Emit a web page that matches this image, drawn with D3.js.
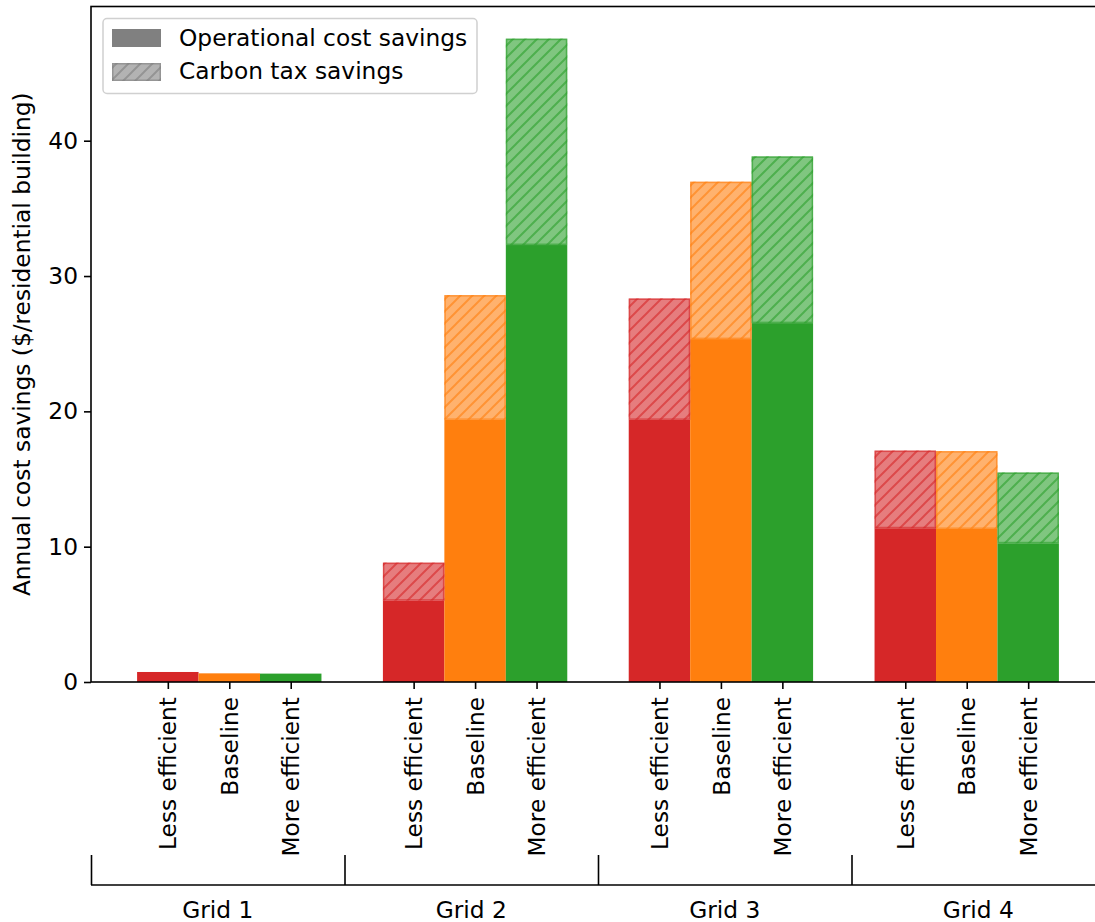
<!DOCTYPE html>
<html>
<head>
<meta charset="utf-8">
<script src="https://cdn.jsdelivr.net/npm/d3@7"></script>
<style>
  html, body { margin: 0; padding: 0; background: #ffffff; }
  svg { display: block; font-family: "DejaVu Sans", sans-serif; }
</style>
</head>
<body>
<svg id="chart" width="1095" height="922"></svg>
<script>
// Grid scenarios and building efficiency cases
const grids = ["Grid 1", "Grid 2", "Grid 3", "Grid 4"];
const cases = ["Less efficient", "Baseline", "More efficient"];
const caseColors = ["#d62728", "#ff7f0e", "#2ca02c"];

// Annual savings per residential building ($), one row per grid, one value per case
const operationalSavings = [
  [0.74, 0.64, 0.62],
  [6.01, 19.37, 32.29],
  [19.37, 25.34, 26.52],
  [11.36, 11.31, 10.25]
];
const carbonTaxSavings = [
  [0, 0, 0],
  [2.81, 9.22, 15.25],
  [8.97, 11.63, 12.32],
  [5.74, 5.75, 5.23]
];
const yTicks = [0, 10, 20, 30, 40];
const legendLabels = ["Operational cost savings", "Carbon tax savings"];
const yLabel = "Annual cost savings ($/residential building)";

const FONT = 23.3;
const svg = d3.select("#chart");
const plot = { left: 91, right: 1105, top: 6.5, bottom: 682 };
const barWidth = 0.25;

// Flatten into one record per bar
const bars = [];
grids.forEach((g, gi) => {
  cases.forEach((c, ci) => {
    bars.push({
      pos: gi + (ci - 1) * barWidth,
      op: operationalSavings[gi][ci],
      carbon: carbonTaxSavings[gi][ci],
      color: caseColors[ci],
      label: c
    });
  });
});

const xMinData = d3.min(bars, d => d.pos - barWidth / 2);
const xMaxData = d3.max(bars, d => d.pos + barWidth / 2);
const xPad = (xMaxData - xMinData) * 0.05;
const x = d3.scaleLinear()
  .domain([xMinData - xPad, xMaxData + xPad])
  .range([plot.left, plot.right]);

const yMax = d3.max(bars, d => d.op + d.carbon) * 1.05;
const y = d3.scaleLinear()
  .domain([0, yMax])
  .range([plot.bottom, plot.top]);

// Hatch patterns, one per colour
const defs = svg.append("defs");
function addHatch(id, color) {
  const p = defs.append("pattern")
    .attr("id", id)
    .attr("patternUnits", "userSpaceOnUse")
    .attr("width", 12).attr("height", 12);
  p.append("path")
    .attr("d", "M-3,3 L3,-3 M0,12 L12,0 M9,15 L15,9")
    .attr("stroke", color)
    .attr("stroke-width", 2)
    .attr("fill", "none");
}
caseColors.forEach((c, i) => addHatch("hatch" + i, c));
addHatch("hatchLegend", "#808080");

const barLayer = svg.append("g");

// Operational savings (solid)
barLayer.selectAll("rect.op")
  .data(bars)
  .join("rect")
  .attr("class", "op")
  .attr("x", d => x(d.pos - barWidth / 2))
  .attr("width", d => x(d.pos + barWidth / 2) - x(d.pos - barWidth / 2))
  .attr("y", d => y(d.op))
  .attr("height", d => y(0) - y(d.op))
  .attr("fill", d => d.color);

// Carbon tax savings (translucent, hatched), stacked on top
const carbonBars = bars.filter(d => d.carbon > 0);
const cg = barLayer.selectAll("g.carbon")
  .data(carbonBars)
  .join("g")
  .attr("class", "carbon");
cg.append("rect")
  .attr("x", d => x(d.pos - barWidth / 2))
  .attr("width", d => x(d.pos + barWidth / 2) - x(d.pos - barWidth / 2))
  .attr("y", d => y(d.op + d.carbon))
  .attr("height", d => y(d.op) - y(d.op + d.carbon))
  .attr("fill", d => d.color)
  .attr("fill-opacity", 0.6);
cg.append("rect")
  .attr("x", d => x(d.pos - barWidth / 2))
  .attr("width", d => x(d.pos + barWidth / 2) - x(d.pos - barWidth / 2))
  .attr("y", d => y(d.op + d.carbon))
  .attr("height", d => y(d.op) - y(d.op + d.carbon))
  .attr("fill", d => "url(#hatch" + caseColors.indexOf(d.color) + ")")
  .attr("opacity", 0.6);
cg.append("rect")
  .attr("x", d => x(d.pos - barWidth / 2) + 0.75)
  .attr("width", d => x(d.pos + barWidth / 2) - x(d.pos - barWidth / 2) - 1.5)
  .attr("y", d => y(d.op + d.carbon) + 0.75)
  .attr("height", d => y(d.op) - y(d.op + d.carbon) - 1.5)
  .attr("fill", "none")
  .attr("stroke", d => d.color)
  .attr("stroke-opacity", 0.6)
  .attr("stroke-width", 1.5);

// Y axis
const yAxis = svg.append("g")
  .attr("transform", `translate(${plot.left},0)`)
  .call(d3.axisLeft(y).tickValues(yTicks).tickSize(7).tickPadding(6));
yAxis.select(".domain").remove();
yAxis.selectAll(".tick line").attr("stroke", "#000").attr("stroke-width", 1.6);
yAxis.selectAll(".tick text")
  .attr("font-size", FONT).attr("fill", "#000")
  .attr("font-family", "DejaVu Sans, sans-serif");

// X axis with rotated case labels
const xAxis = svg.append("g")
  .attr("transform", `translate(0,${plot.bottom})`)
  .call(d3.axisBottom(x)
    .tickValues(bars.map(d => d.pos))
    .tickFormat((d, i) => bars[i].label)
    .tickSize(7).tickPadding(7));
xAxis.select(".domain").remove();
xAxis.selectAll(".tick line").attr("stroke", "#000").attr("stroke-width", 1.6);
xAxis.selectAll(".tick text")
  .attr("font-size", FONT).attr("fill", "#000")
  .attr("font-family", "DejaVu Sans, sans-serif")
  .attr("transform", "rotate(-90)")
  .attr("text-anchor", "end")
  .attr("x", -15)
  .attr("y", 0)
  .attr("dy", "0.35em");

// Plot frame
svg.append("rect")
  .attr("x", plot.left).attr("y", plot.top)
  .attr("width", plot.right - plot.left)
  .attr("height", plot.bottom - plot.top)
  .attr("fill", "none")
  .attr("stroke", "#000")
  .attr("stroke-width", 1.6);

// Grid group axis below the case labels
const groupY = 885;
const gx = d3.scaleLinear().domain([0, grids.length]).range([plot.left, plot.right]);
const groupAxis = svg.append("g")
  .attr("transform", `translate(0,${groupY})`)
  .call(d3.axisBottom(gx).tickValues(d3.range(grids.length + 1)).tickSize(-30).tickFormat(""));
groupAxis.select(".domain")
  .attr("d", `M${plot.left},0H${plot.right}`)
  .attr("stroke", "#000").attr("stroke-width", 1.6);
groupAxis.selectAll(".tick line").attr("stroke", "#000").attr("stroke-width", 1.6);

svg.append("g").selectAll("text")
  .data(grids)
  .join("text")
  .attr("x", (d, i) => gx(i + 0.5))
  .attr("y", 918)
  .attr("text-anchor", "middle")
  .attr("font-size", FONT)
  .attr("fill", "#000")
  .text(d => d);

// Y axis title
svg.append("text")
  .attr("transform", `translate(30,${(plot.top + plot.bottom) / 2}) rotate(-90)`)
  .attr("text-anchor", "middle")
  .attr("font-size", FONT)
  .attr("fill", "#000")
  .text(yLabel);

// Legend
const legend = svg.append("g");
legend.append("rect")
  .attr("x", 103).attr("y", 18.5)
  .attr("width", 374).attr("height", 75)
  .attr("rx", 4)
  .attr("fill", "#fff").attr("fill-opacity", 0.8)
  .attr("stroke", "#d0d0d0").attr("stroke-width", 1.5);
legend.append("rect")
  .attr("x", 112).attr("y", 29).attr("width", 49).attr("height", 18)
  .attr("fill", "#808080");
legend.append("rect")
  .attr("x", 112).attr("y", 63).attr("width", 49).attr("height", 18)
  .attr("fill", "#808080").attr("fill-opacity", 0.6);
legend.append("rect")
  .attr("x", 112).attr("y", 63).attr("width", 49).attr("height", 18)
  .attr("fill", "url(#hatchLegend)").attr("opacity", 0.6);
legend.append("rect")
  .attr("x", 112.75).attr("y", 63.75).attr("width", 47.5).attr("height", 16.5)
  .attr("fill", "none").attr("stroke", "#808080").attr("stroke-opacity", 0.6).attr("stroke-width", 1.5);
legend.selectAll("text.lab")
  .data(legendLabels)
  .join("text")
  .attr("class", "lab")
  .attr("x", 179)
  .attr("y", (d, i) => 46 + i * 33)
  .attr("font-size", FONT)
  .attr("fill", "#000")
  .text(d => d);
</script>
</body>
</html>
